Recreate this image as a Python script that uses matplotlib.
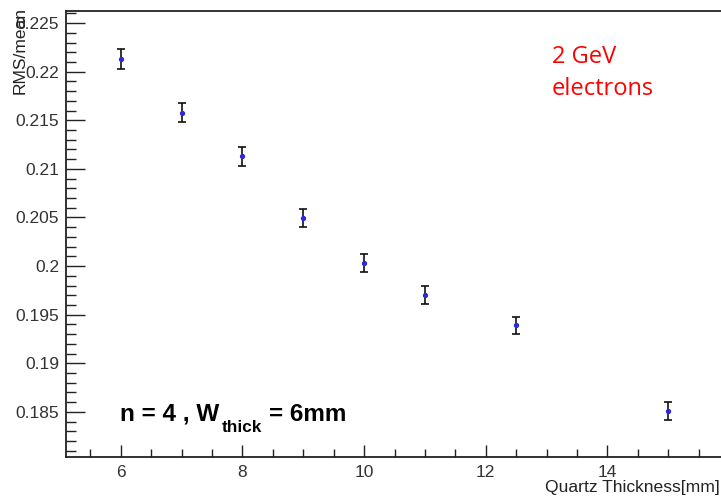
import matplotlib
matplotlib.use("Agg")
import matplotlib.pyplot as plt
from matplotlib.ticker import MultipleLocator, FuncFormatter
from matplotlib.transforms import IdentityTransform

# Data
thickness = [6, 7, 8, 9, 10, 11, 12.5, 15]
rms_mean = [0.2213, 0.2158, 0.2113, 0.2049, 0.2003, 0.1970, 0.1939, 0.1851]
rms_err = [0.0010, 0.00097, 0.00095, 0.00093, 0.00092, 0.0009, 0.0009, 0.0009]
x_major_ticks = [6, 8, 10, 12, 14]
y_major_ticks = [0.185, 0.19, 0.195, 0.2, 0.205, 0.21, 0.215, 0.22, 0.225]

plt.rcParams['font.family'] = ['Liberation Sans', 'DejaVu Sans']

W, H = 721, 498
fig = plt.figure(figsize=(W / 100, H / 100), dpi=100)
ax = fig.add_axes([66 / W, 1 - 457 / H, (723 - 66) / W, (457 - 11.5) / H])

ax.errorbar(thickness, rms_mean, yerr=rms_err, fmt='o', color='#2a2ad8',
            markersize=2.8, ecolor='#111111', elinewidth=1.2, capsize=3.0,
            capthick=1.2)

ax.set_xlim(5.1, 15.9)
ax.set_ylim(0.18035, 0.2262)

ax.set_xticks(x_major_ticks)
ax.xaxis.set_minor_locator(MultipleLocator(0.5))
ax.set_yticks(y_major_ticks)
ax.yaxis.set_minor_locator(MultipleLocator(0.001))
ax.yaxis.set_major_formatter(FuncFormatter(lambda v, p: f"{v:g}"))

ax.tick_params(axis='both', which='both', direction='in', width=1.0,
               colors='#222222', labelsize=12.5, labelcolor='#333333')
ax.tick_params(axis='y', which='major', length=14, pad=5)
ax.tick_params(axis='y', which='minor', length=7.5)
ax.tick_params(axis='x', which='major', length=9, pad=6)
ax.tick_params(axis='x', which='minor', length=5.5)

for s in ax.spines.values():
    s.set_linewidth(1.3)
    s.set_color('#222222')

# Axis titles
fig.text(720 / W, 1 - 492 / H, "Quartz Thickness[mm]", ha='right', va='baseline',
         fontsize=12.6, color='#222222')
fig.text(20 / W, 1 - 7 / H, "RMS/mean", ha='center', va='top', rotation=90,
         fontsize=12.5, color='#222222')

# Red annotation
ax.text(13.09, 0.22086, "2 GeV", fontsize=17, color='#ff0000',
        family=['Open Sans', 'DejaVu Sans'], ha='left', va='baseline')
ax.text(13.09, 0.21758, "electrons", fontsize=17, color='#ff0000',
        family=['Open Sans', 'DejaVu Sans'], ha='left', va='baseline')

# Bold annotation with subscript, composed piecewise
fig.canvas.draw()
renderer = fig.canvas.get_renderer()
bx, by = ax.transData.transform((5.98, 0.18406))
t1 = ax.text(bx, by, "n = 4 , W", fontsize=17.5, weight='bold',
             transform=IdentityTransform(), ha='left', va='baseline')
x1 = t1.get_window_extent(renderer).x1
t2 = ax.text(x1 + 3, by - 11, "thick", fontsize=12.3, weight='bold',
             transform=IdentityTransform(), ha='left', va='baseline')
x2 = t2.get_window_extent(renderer).x1
ax.text(x2 + 7, by, "= 6mm", fontsize=17.5, weight='bold',
        transform=IdentityTransform(), ha='left', va='baseline')

fig.savefig("out.png", dpi=100)
